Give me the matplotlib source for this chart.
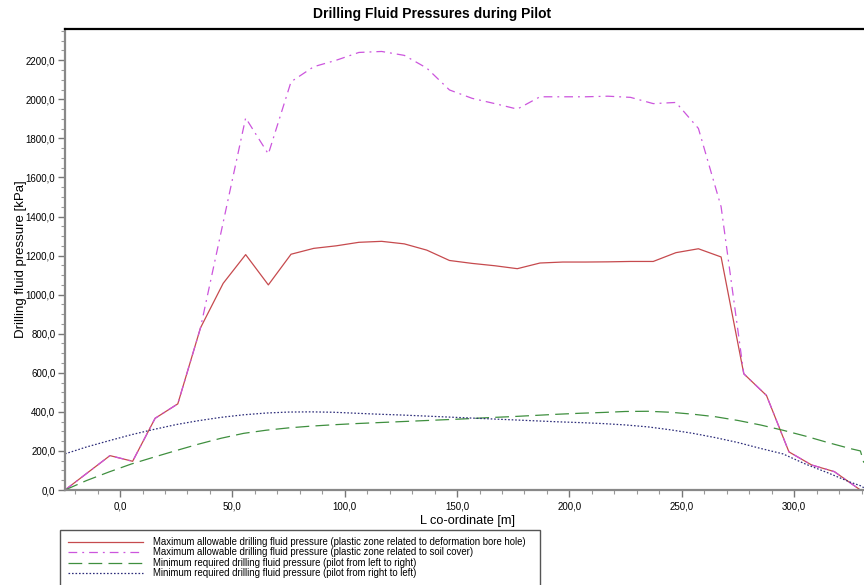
#!/usr/bin/env python3
"""Drilling fluid pressures during pilot -> out.png"""
import matplotlib
matplotlib.use("Agg")
import matplotlib.pyplot as plt
from matplotlib.patches import Rectangle
from matplotlib.ticker import MultipleLocator, FuncFormatter

# stations along the drill line [m]
L_MAX = [-24.5, -14.5, -4.5, 5.6, 15.6, 25.7, 35.8, 45.9, 55.9, 66.0, 76.1, 86.2, 96.2,
         106.3, 116.4, 126.5, 136.5, 146.6, 156.7, 166.8, 176.8, 186.9, 197.0, 207.1,
         217.1, 227.2, 237.3, 247.4, 257.4, 267.5, 277.6, 287.7, 297.7, 307.8, 317.9, 329.5]
# max allowable, plastic zone related to deformation bore hole [kPa]
P_BORE = [0, 88, 176, 147, 367, 441, 830, 1058, 1205, 1050, 1207, 1237, 1250,
          1268, 1273, 1260, 1228, 1175, 1160, 1148, 1133, 1162, 1167, 1167,
          1168, 1170, 1170, 1215, 1235, 1193, 595, 484, 195, 128, 94, 0]
# max allowable, plastic zone related to soil cover [kPa]
P_SOIL = [0, 88, 176, 147, 367, 441, 830, 1370, 1905, 1720, 2090, 2167, 2200,
          2240, 2245, 2225, 2160, 2048, 2005, 1978, 1950, 2013, 2013, 2013,
          2016, 2010, 1978, 1984, 1851, 1450, 595, 484, 195, 128, 94, 0]

L_MIN = [-24.5, -15, -5, 5, 15, 25, 35, 45, 55, 65, 75, 85, 95, 105, 115, 125, 135,
         145, 155, 165, 175, 185, 195, 205, 215, 225, 235, 245, 255, 265, 275, 285,
         295, 305, 315, 325, 329.5, 331]
# min required, pilot from left to right [kPa]
P_LR = [0, 48, 92, 133, 168, 202, 235, 265, 290, 306, 318, 327, 334, 340, 345, 350, 355,
        360, 365, 371, 376, 382, 388, 393, 397, 402, 403, 398, 388, 375, 356, 333,
        306, 276, 243, 212, 200, 140]
# min required, pilot from right to left [kPa]
P_RL = [185, 220, 252, 283, 310, 335, 355, 372, 385, 394, 399, 400, 398, 393, 388, 384, 379,
        374, 369, 364, 359, 354, 349, 345, 340, 333, 323, 308, 290, 268, 243, 213,
        185, 133, 88, 40, 22, 12]

LABELS = ["Maximum allowable drilling fluid pressure (plastic zone related to deformation bore hole)",
          "Maximum allowable drilling fluid pressure (plastic zone related to soil cover)",
          "Minimum required drilling fluid pressure (pilot from left to right)",
          "Minimum required drilling fluid pressure (pilot from right to left)"]


def comma(v, _pos):
    return f"{v:.1f}".replace(".", ",")


def main():
    plt.rcParams["font.family"] = ["Liberation Sans", "DejaVu Sans"]
    W, H = 864, 585
    fig = plt.figure(figsize=(W / 100, H / 100), dpi=100)
    ax = fig.add_axes([65 / W, 1 - 490 / H, 799 / W, 461 / H])

    h1, = ax.plot(L_MAX, P_BORE, color="#c64a4e", lw=0.9)
    h2, = ax.plot(L_MAX, P_SOIL, color="#cc55dd", lw=0.9, dashes=(7, 4, 1.5, 4))
    h3, = ax.plot(L_MIN, P_LR, color="#3f8f3f", lw=0.9, dashes=(11, 5))
    h4, = ax.plot(L_MIN, P_RL, color="#2d2d7a", lw=0.9, dashes=(1.3, 1.5))

    ax.set_xlim(-24.5, 331.1)
    ax.set_ylim(0, 2360)
    ax.xaxis.set_major_locator(MultipleLocator(50)); ax.xaxis.set_minor_locator(MultipleLocator(10))
    ax.yaxis.set_major_locator(MultipleLocator(200)); ax.yaxis.set_minor_locator(MultipleLocator(50))
    ax.xaxis.set_major_formatter(FuncFormatter(comma)); ax.yaxis.set_major_formatter(FuncFormatter(comma))
    ax.tick_params(which="major", length=5, width=1, color="#777", labelsize=7, pad=2)
    ax.tick_params(which="minor", length=3, width=0.8, color="#999")
    ax.tick_params(axis="x", which="major", pad=3)

    for s in ("left", "bottom"):
        ax.spines[s].set_color("#888"); ax.spines[s].set_linewidth(1.6)
    ax.spines["top"].set_color("black"); ax.spines["top"].set_linewidth(1.6)
    ax.spines["right"].set_visible(False)

    ax.set_ylabel("Drilling fluid pressure [kPa]", fontsize=9.5)
    ax.yaxis.set_label_coords(-0.047, 0.5)
    ax.set_xlabel("L co-ordinate [m]", fontsize=9.2)
    ax.xaxis.set_label_coords(0.504, -0.054)
    fig.text(0.5, 1 - 14 / H, "Drilling Fluid Pressures during Pilot", ha="center", va="center",
             fontsize=10, fontweight="bold")

    # legend box runs off the bottom of the figure
    fig.patches.append(Rectangle((60 / W, -0.05), 480 / W, 0.05 + 55 / H, transform=fig.transFigure,
                                 fill=False, edgecolor="#555", lw=1))
    fig.legend([h1, h2, h3, h4], LABELS, loc="upper left", bbox_to_anchor=(66 / W, 1 - 535 / H),
               frameon=False, fontsize=6.9, handlelength=7.8, handletextpad=1.1,
               labelspacing=0.05, borderpad=0.2, borderaxespad=0)

    fig.savefig("out.png", dpi=100)


if __name__ == "__main__":
    main()
